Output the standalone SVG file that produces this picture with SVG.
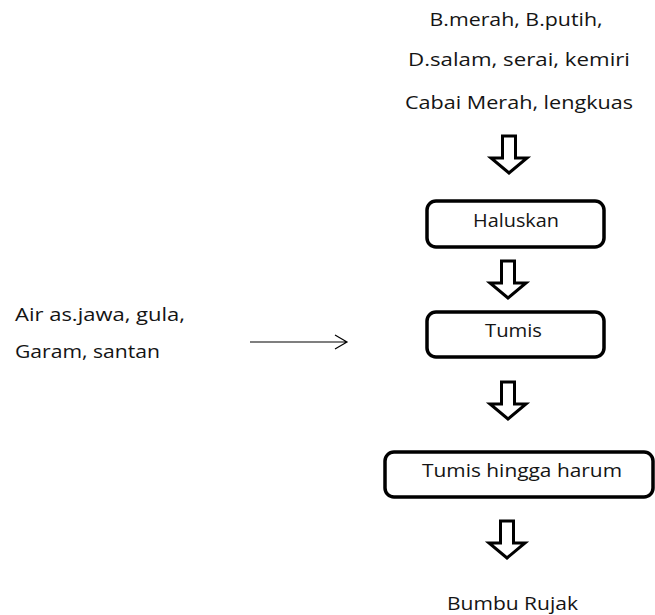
<svg xmlns="http://www.w3.org/2000/svg" width="655" height="615" viewBox="0 0 655 615">
<defs>
<style>
text{font-family:"Open Sans","Liberation Sans",sans-serif;font-size:18px;fill:#141414}
.c{text-anchor:middle}
.box{fill:#fff;stroke:#000;stroke-width:3.5}
.blk{fill:#fff;stroke:#000;stroke-width:3;stroke-linejoin:miter}
.thin{fill:none;stroke:#000;stroke-width:1.2}
</style>
<path id="bigarrow" d="M-6.5,0 H6.5 V22 H18 L0,37 L-18,22 H-6.5 Z"/>
</defs>
<rect width="655" height="615" fill="#fff"/>
<g id="ingredients-top">
<text class="c" x="516" y="26" textLength="173" lengthAdjust="spacingAndGlyphs">B.merah, B.putih,</text>
<text class="c" x="519" y="66" textLength="222" lengthAdjust="spacingAndGlyphs">D.salam, serai, kemiri</text>
<text class="c" x="519" y="109" textLength="228" lengthAdjust="spacingAndGlyphs">Cabai Merah, lengkuas</text>
</g>
<g id="haluskan">
<rect class="box" x="427" y="201" width="177" height="46" rx="9"/>
<text class="c" x="516" y="227" textLength="86" lengthAdjust="spacingAndGlyphs">Haluskan</text>
</g>
<g id="tumis">
<rect class="box" x="427" y="312" width="177" height="45" rx="9"/>
<text class="c" x="513.5" y="337" textLength="57" lengthAdjust="spacingAndGlyphs">Tumis</text>
</g>
<g id="tumis-hingga-harum">
<rect class="box" x="385" y="452" width="268" height="45" rx="9"/>
<text class="c" x="522" y="477" textLength="200" lengthAdjust="spacingAndGlyphs">Tumis hingga harum</text>
</g>
<g id="bumbu-rujak">
<text class="c" x="512.5" y="610" textLength="131" lengthAdjust="spacingAndGlyphs">Bumbu Rujak</text>
</g>
<g id="ingredients-left">
<text x="15" y="321" textLength="170" lengthAdjust="spacingAndGlyphs">Air as.jawa, gula,</text>
<text x="15" y="358" textLength="145" lengthAdjust="spacingAndGlyphs">Garam, santan</text>
</g>
<g id="connectors">
<use href="#bigarrow" class="blk" transform="translate(509,136)"/>
<use href="#bigarrow" class="blk" transform="translate(508,261)"/>
<use href="#bigarrow" class="blk" transform="translate(508,382)"/>
<use href="#bigarrow" class="blk" transform="translate(507,521)"/>
<path class="thin" d="M250,342 H347 M335,335 L347,342 L335,349"/>
</g>
</svg>
